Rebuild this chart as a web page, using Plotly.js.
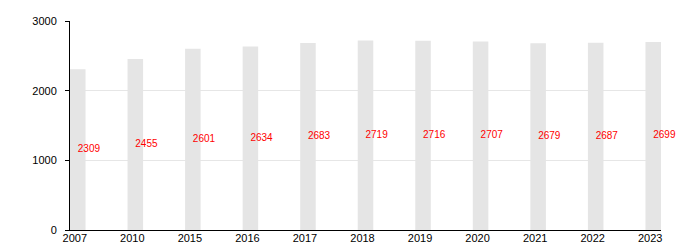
<!DOCTYPE html>
<html><head><meta charset="utf-8">
<script src="https://cdn.plot.ly/plotly-3.0.1.min.js"></script>
<style>html,body{margin:0;padding:0;background:#fff}</style>
</head><body>
<div id="chart" style="width:700px;height:250px"></div>
<script>
const years = ['2007','2010','2015','2016','2017','2018','2019','2020','2021','2022','2023'];
const population = [2309, 2455, 2601, 2634, 2683, 2719, 2716, 2707, 2679, 2687, 2699];
const yTicks = [0, 1000, 2000, 3000];

const traces = [
  {
    type: 'bar', x: years, y: population, width: 0.27,
    marker: {color: '#e5e5e5'}, hoverinfo: 'x+y'
  },
  {
    type: 'scatter', mode: 'text', x: years, y: population.map(v => v / 2),
    text: population.map(String), textposition: 'middle right', cliponaxis: false,
    textfont: {family: 'Liberation Sans, Arial, sans-serif', size: 10, color: '#ff0000'},
    hoverinfo: 'skip'
  }
];

const layout = {
  width: 700, height: 250,
  margin: {l: 70, r: 39, t: 21, b: 20},
  showlegend: false,
  paper_bgcolor: '#fff', plot_bgcolor: '#fff',
  font: {family: 'Liberation Sans, Arial, sans-serif', size: 11, color: '#000'},
  xaxis: {
    type: 'category', range: [-0.135, 10.135],
    showline: true, linecolor: '#000', linewidth: 1,
    showgrid: false, ticks: '', ticklabelshift: -3, ticklabelstandoff: -2,
    tickfont: {size: 11, color: '#000'}, fixedrange: true
  },
  yaxis: {
    range: [0, 3000], tickvals: yTicks, ticktext: yTicks.map(String),
    showline: true, linecolor: '#000', linewidth: 1,
    ticks: 'outside', ticklen: 4, tickcolor: '#000', ticklabelstandoff: 6,
    showgrid: true, gridcolor: '#e6e6e6', zeroline: false,
    tickfont: {size: 11, color: '#000'}, fixedrange: true
  }
};

Plotly.newPlot('chart', traces, layout, {displayModeBar: false, staticPlot: true});
</script>
</body></html>
